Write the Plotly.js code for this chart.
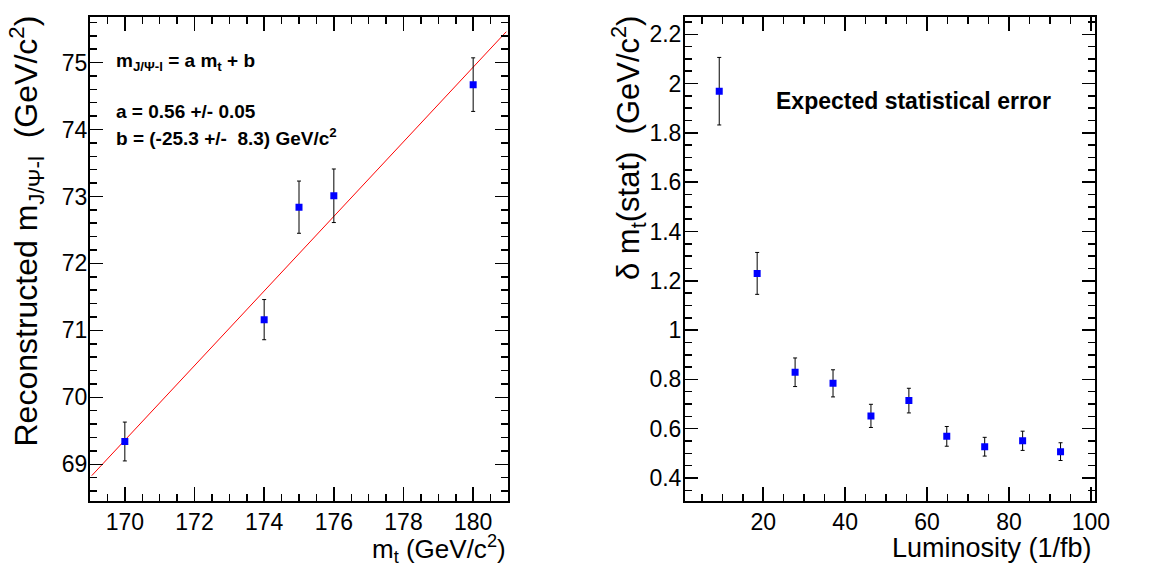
<!DOCTYPE html>
<html>
<head>
<meta charset="utf-8">
<script src="https://cdn.plot.ly/plotly-3.0.1.min.js"></script>
<style>html,body{margin:0;padding:0;background:#fff;}#chart{width:1172px;height:567px;}</style>
</head>
<body>
<div id="chart"></div>
<script>
// Left panel: reconstructed m(J/Psi-l) vs top mass
var massTop = [170, 174, 175, 176, 180];
var massReco = [69.34, 71.16, 72.84, 73.01, 74.67];
var massRecoErr = [0.29, 0.30, 0.39, 0.40, 0.40];
// fitted line end points
var fitX = [169.05, 180.95];
var fitY = [68.83, 75.46];

// Right panel: expected statistical error vs luminosity
var lumi = [9.26, 18.52, 27.78, 37.04, 46.30, 55.56, 64.81, 74.07, 83.33, 92.59];
var dmStat = [1.969, 1.230, 0.829, 0.784, 0.652, 0.714, 0.569, 0.527, 0.551, 0.507];
var dmStatErr = [0.137, 0.085, 0.058, 0.055, 0.047, 0.050, 0.040, 0.038, 0.039, 0.036];

var W = 1172, H = 567;
var FONT = '"Liberation Sans", Arial, Helvetica, sans-serif';
function px(x){ return x / W; }
function py(y){ return 1 - y / H; }

var markerStyle = {symbol: 'square', size: 7, color: '#0000ff'};
var errStyle = {type: 'data', visible: true, color: '#000', thickness: 1, width: 2};

var traces = [
  {x: fitX, y: fitY, xaxis: 'x', yaxis: 'y', mode: 'lines', line: {color: '#ff0000', width: 1}, hoverinfo: 'skip'},
  {x: massTop, y: massReco, xaxis: 'x', yaxis: 'y', mode: 'markers', marker: markerStyle,
   error_y: Object.assign({array: massRecoErr}, errStyle)},
  {x: lumi, y: dmStat, xaxis: 'x2', yaxis: 'y2', mode: 'markers', marker: markerStyle,
   error_y: Object.assign({array: dmStatErr}, errStyle)}
];

function axisBase(extra){
  var a = {
    showline: true, linecolor: '#000', linewidth: 2, mirror: 'allticks',
    ticks: 'inside', tickcolor: '#000', tickwidth: 1.5,
    showgrid: false, zeroline: false,
    tickfont: {family: FONT, size: 23, color: '#000'},
    fixedrange: true
  };
  return Object.assign(a, extra);
}

var ydom = [py(500.7), py(17)];
var layout = {
  width: W, height: H,
  margin: {l: 0, r: 0, t: 0, b: 0},
  paper_bgcolor: '#fff', plot_bgcolor: '#fff',
  showlegend: false,
  font: {family: FONT, color: '#000'},
  xaxis: axisBase({domain: [px(90), px(508)], range: [169, 181], anchor: 'y',
    tickmode: 'linear', tick0: 170, dtick: 2, ticklen: 14,
    minor: {dtick: 0.5, tick0: 170, ticklen: 7, ticks: 'inside', tickcolor: '#000', tickwidth: 1.5, showgrid: false}}),
  yaxis: axisBase({domain: ydom, range: [68.456, 75.68], anchor: 'x',
    tickmode: 'linear', tick0: 69, dtick: 1, ticklen: 13, ticklabelstandoff: -4,
    minor: {dtick: 0.2, tick0: 69, ticklen: 7, ticks: 'inside', tickcolor: '#000', tickwidth: 1.5, showgrid: false}}),
  xaxis2: axisBase({domain: [px(685), px(1095)], range: [0.9, 101], anchor: 'y2',
    tickmode: 'linear', tick0: 0, dtick: 20, ticklen: 14,
    minor: {dtick: 5, tick0: 0, ticklen: 7, ticks: 'inside', tickcolor: '#000', tickwidth: 1.5, showgrid: false}}),
  yaxis2: axisBase({domain: ydom, range: [0.308, 2.27], anchor: 'x2',
    tickmode: 'linear', tick0: 0.4, dtick: 0.2, ticklen: 13, ticklabelstandoff: -3,
    minor: {dtick: 0.05, tick0: 0.4, ticklen: 7, ticks: 'inside', tickcolor: '#000', tickwidth: 1.5, showgrid: false}}),
  annotations: [
    {text: 'Reconstructed m<sub>J/Ψ-l</sub>  (GeV/c<sup>2</sup>)', xref: 'paper', yref: 'paper',
     x: px(26), y: py(14), xanchor: 'center', yanchor: 'top', textangle: -90, showarrow: false,
     font: {family: FONT, size: 32, color: '#000'}},
    {text: 'δ m<sub>t</sub>(stat)  (GeV/c<sup>2</sup>)', xref: 'paper', yref: 'paper',
     x: px(628), y: py(14), xanchor: 'center', yanchor: 'top', textangle: -90, showarrow: false,
     font: {family: FONT, size: 31, color: '#000'}},
    {text: 'm<sub>t</sub> (GeV/c<sup>2</sup>)', xref: 'paper', yref: 'paper',
     x: px(508), y: py(549), xanchor: 'right', yanchor: 'middle', showarrow: false,
     font: {family: FONT, size: 26, color: '#000'}},
    {text: 'Luminosity (1/fb)', xref: 'paper', yref: 'paper',
     x: px(1094), y: py(548), xanchor: 'right', yanchor: 'middle', showarrow: false,
     font: {family: FONT, size: 27, color: '#000'}},
    {text: '<b>m<sub>J/Ψ-l</sub> = a m<sub>t</sub> + b</b>', xref: 'paper', yref: 'paper',
     x: px(114), y: py(62), xanchor: 'left', yanchor: 'middle', showarrow: false,
     font: {family: FONT, size: 19, color: '#000'}},
    {text: '<b>a = 0.56 +/- 0.05</b>', xref: 'paper', yref: 'paper',
     x: px(114), y: py(111), xanchor: 'left', yanchor: 'middle', showarrow: false,
     font: {family: FONT, size: 19, color: '#000'}},
    {text: '<b>b = (-25.3 +/- \u00a08.3) GeV/c<sup>2</sup></b>', xref: 'paper', yref: 'paper',
     x: px(114), y: py(137), xanchor: 'left', yanchor: 'middle', showarrow: false,
     font: {family: FONT, size: 19, color: '#000'}},
    {text: '<b>Expected statistical error</b>', xref: 'paper', yref: 'paper',
     x: px(914), y: py(101), xanchor: 'center', yanchor: 'middle', showarrow: false,
     font: {family: FONT, size: 23, color: '#000'}}
  ]
};

Plotly.newPlot('chart', traces, layout, {displayModeBar: false, staticPlot: true});
</script>
</body>
</html>
